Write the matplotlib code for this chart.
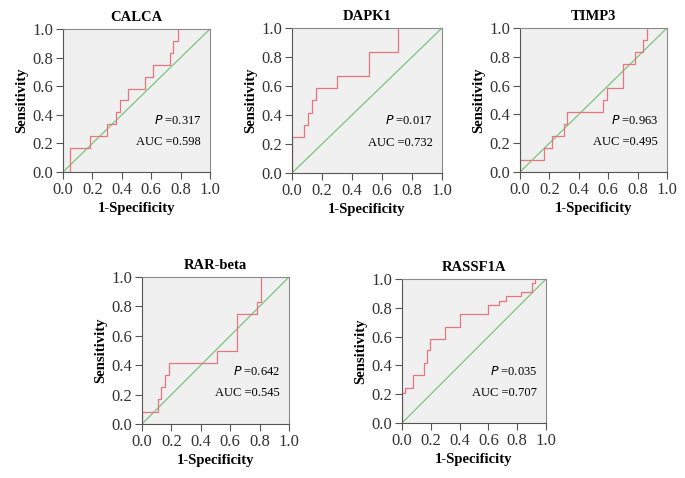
import matplotlib
matplotlib.use("Agg")
import matplotlib.pyplot as plt

plt.rcParams['font.family'] = ['Liberation Serif', 'DejaVu Serif']

# ROC step vertices (1-specificity, sensitivity)
calca_x = [0, 0.05, 0.05, 0.186, 0.186, 0.30, 0.30, 0.36, 0.36, 0.386, 0.386, 0.443, 0.443,
           0.557, 0.557, 0.614, 0.614, 0.727, 0.727, 0.75, 0.75, 0.78, 0.78]
calca_y = [0, 0, 0.167, 0.167, 0.25, 0.25, 0.333, 0.333, 0.417, 0.417, 0.5, 0.5, 0.583,
           0.583, 0.667, 0.667, 0.75, 0.75, 0.833, 0.833, 0.917, 0.917, 1.0]

dapk1_x = [0, 0, 0.078, 0.078, 0.104, 0.104, 0.133, 0.133, 0.162, 0.162, 0.30, 0.30,
           0.511, 0.511, 0.704, 0.704]
dapk1_y = [0, 0.25, 0.25, 0.333, 0.333, 0.417, 0.417, 0.5, 0.5, 0.583, 0.583, 0.667,
           0.667, 0.833, 0.833, 1.0]

timp3_x = [0, 0, 0.163, 0.163, 0.219, 0.219, 0.299, 0.299, 0.321, 0.321, 0.566, 0.566,
           0.593, 0.593, 0.701, 0.701, 0.785, 0.785, 0.837, 0.837, 0.867, 0.867]
timp3_y = [0, 0.083, 0.083, 0.167, 0.167, 0.25, 0.25, 0.333, 0.333, 0.417, 0.417, 0.5,
           0.5, 0.583, 0.583, 0.75, 0.75, 0.833, 0.833, 0.917, 0.917, 1.0]

rarb_x = [0, 0, 0.109, 0.109, 0.132, 0.132, 0.157, 0.157, 0.184, 0.184, 0.511, 0.511,
          0.645, 0.645, 0.784, 0.784, 0.809, 0.809]
rarb_y = [0, 0.083, 0.083, 0.167, 0.167, 0.25, 0.25, 0.333, 0.333, 0.417, 0.417, 0.5,
          0.5, 0.75, 0.75, 0.833, 0.833, 1.0]

rassf_x = [0, 0, 0.018, 0.018, 0.074, 0.074, 0.15, 0.15, 0.173, 0.173, 0.196, 0.196,
           0.30, 0.30, 0.40, 0.40, 0.60, 0.60, 0.677, 0.677, 0.723, 0.723, 0.824, 0.824,
           0.90, 0.90, 0.924, 0.924]
rassf_y = [0, 0.21, 0.21, 0.24, 0.24, 0.33, 0.33, 0.42, 0.42, 0.51, 0.51, 0.58, 0.58,
           0.67, 0.67, 0.76, 0.76, 0.82, 0.82, 0.85, 0.85, 0.88, 0.88, 0.91, 0.91, 0.97,
           0.97, 1.0]

names = ['CALCA', 'DAPK1', 'TIMP3', 'RAR-beta', 'RASSF1A']
p_vals = ['0.317', '0.017', '0.963', '0.642', '0.035']
auc_vals = ['0.598', '0.732', '0.495', '0.545', '0.707']
curves = [(calca_x, calca_y), (dapk1_x, dapk1_y), (timp3_x, timp3_y),
          (rarb_x, rarb_y), (rassf_x, rassf_y)]

W, H = 685, 478
# axes boxes in pixels: left, top, right, bottom
boxes = [(63, 29, 210, 172), (292, 28, 442, 173), (520, 28, 667, 172),
         (142, 277, 289, 424), (402, 279, 546, 423)]

fig = plt.figure(figsize=(6.85, 4.78), dpi=100)
fig.patch.set_facecolor('white')

for i in range(5):
    l, t, r, b = boxes[i]
    ax = fig.add_axes([l / W, 1 - b / H, (r - l) / W, (b - t) / H])
    ax.set_facecolor('#f0f0f0')
    ax.plot([0, 1], [0, 1], color='#7cc47c', lw=0.9)
    ax.plot(curves[i][0], curves[i][1], color='#e8767e', lw=0.9)
    ax.set_xlim(0, 1)
    ax.set_ylim(0, 1)
    ticks = [0, 0.2, 0.4, 0.6, 0.8, 1.0]
    ax.set_xticks(ticks)
    ax.set_yticks(ticks)
    ax.set_xticklabels(['%.1f' % v for v in ticks])
    ax.set_yticklabels(['%.1f' % v for v in ticks])
    ax.tick_params(direction='out', length=5, width=0.8, color='#555555',
                   labelsize=12, labelcolor='#333333', pad=2)
    for s in ax.spines.values():
        s.set_color('#8a8a8a')
        s.set_linewidth(0.8)
    ax.spines['left'].set_color('#555555')
    ax.spines['bottom'].set_color('#555555')
    ax.set_title(names[i], fontsize=10.5, fontweight='bold', pad=6)
    ax.set_xlabel('1-Specificity', fontsize=10.5, fontweight='bold', labelpad=3)
    ax.set_ylabel('Sensitivity', fontsize=10.5, fontweight='bold', labelpad=3)
    ax.text(0.94, 0.36, r'$\it{P}$ =' + p_vals[i], ha='right', va='center', fontsize=9)
    ax.text(0.94, 0.21, 'AUC =' + auc_vals[i], ha='right', va='center', fontsize=9)

fig.savefig('out.png', dpi=100)
